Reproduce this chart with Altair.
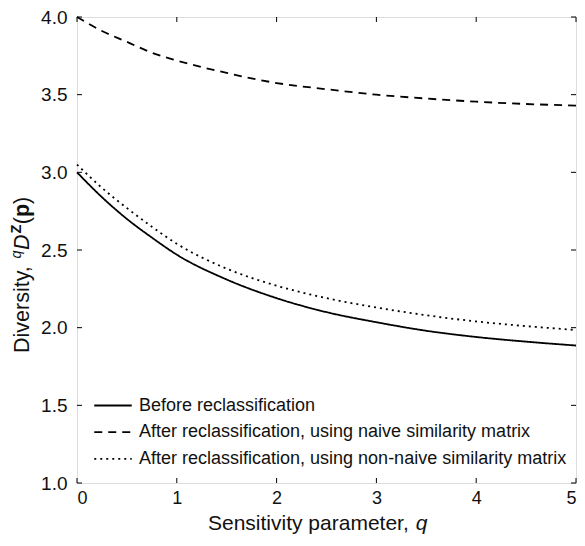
import altair as alt
import pandas as pd

# ---- data ----
q_values = [0, 0.25, 0.5, 0.75, 1, 1.5, 2, 2.5, 3, 3.5, 4, 4.5, 5]
before = [3.00, 2.84, 2.70, 2.58, 2.47, 2.31, 2.19, 2.10, 2.035, 1.98, 1.94, 1.91, 1.885]
naive = [4.00, 3.91, 3.84, 3.77, 3.72, 3.64, 3.575, 3.535, 3.50, 3.475, 3.455, 3.44, 3.43]
non_naive = [3.05, 2.90, 2.77, 2.65, 2.54, 2.38, 2.27, 2.19, 2.13, 2.08, 2.04, 2.01, 1.985]

series_names = [
    "Before reclassification",
    "After reclassification, using naive similarity matrix",
    "After reclassification, using non-naive similarity matrix",
]
dash_patterns = [[1, 0], [8, 6], [2, 4]]
x_ticks = [0, 1, 2, 3, 4, 5]
y_ticks = [1.0, 1.5, 2.0, 2.5, 3.0, 3.5, 4.0]

rows = []
for name, vals in zip(series_names, [before, naive, non_naive]):
    for q, v in zip(q_values, vals):
        rows.append({"q": q, "D": v, "series": name})
df = pd.DataFrame(rows)
xt_df = pd.DataFrame({"q": x_ticks})
yt_df = pd.DataFrame({"D": y_ticks})

FONT = "Liberation Sans"
INK = "#111111"
W, H = 499, 466
TICK = 5

xscale = alt.Scale(domain=[0, 5], nice=False, zero=False)
yscale = alt.Scale(domain=[1, 4], nice=False, zero=False)

lines = alt.Chart(df).mark_line(color="black", strokeWidth=1.8, interpolate="monotone").encode(
    x=alt.X("q:Q", scale=xscale,
            axis=alt.Axis(values=x_ticks, format="d", ticks=False, domain=False, grid=False,
                          labelPadding=6, labelFont=FONT, labelFontSize=18, labelColor=INK,
                          title=None)),
    y=alt.Y("D:Q", scale=yscale,
            axis=alt.Axis(values=y_ticks, format=".1f", ticks=False, domain=False, grid=False,
                          labelPadding=10, labelFont=FONT, labelFontSize=19, labelColor=INK,
                          title=None)),
    strokeDash=alt.StrokeDash(
        "series:N",
        scale=alt.Scale(domain=series_names, range=dash_patterns),
        sort=series_names,
        legend=alt.Legend(title=None, orient="none", legendX=27, legendY=379.5,
                          symbolType="M-2.5,0H2.5", symbolSize=225, symbolStrokeWidth=1.8,
                          symbolStrokeColor="black", labelFontSize=18, labelFont=FONT,
                          labelColor=INK, labelLimit=800, rowPadding=8.7, labelOffset=17,
                          padding=0),
    ),
)

# inward tick marks on all four sides of the box
tick_style = dict(color="black", strokeWidth=1)
xt_bottom = alt.Chart(xt_df).mark_rule(**tick_style).encode(
    x=alt.X("q:Q", scale=xscale), y=alt.value(H - TICK), y2=alt.value(H))
xt_top = alt.Chart(xt_df).mark_rule(**tick_style).encode(
    x=alt.X("q:Q", scale=xscale), y=alt.value(0), y2=alt.value(TICK))
yt_left = alt.Chart(yt_df).mark_rule(**tick_style).encode(
    y=alt.Y("D:Q", scale=yscale), x=alt.value(0), x2=alt.value(TICK))
yt_right = alt.Chart(yt_df).mark_rule(**tick_style).encode(
    y=alt.Y("D:Q", scale=yscale), x=alt.value(W - TICK), x2=alt.value(W))

one = pd.DataFrame({"k": [0]})


def txt(s, x, y, size, angle=0, style="normal", weight="normal", align="left"):
    kw = dict(font=FONT, fontSize=size, color=INK, align=align, baseline="alphabetic",
              fontStyle=style, fontWeight=weight)
    if angle:
        kw["angle"] = angle
    return alt.Chart(one).mark_text(text=s, **kw).encode(x=alt.value(x), y=alt.value(y))


# x-axis title: "Sensitivity parameter, q"
XB = 513
xt = [
    txt("Sensitivity parameter, ", 131, XB, 21),
    txt("q", 338.7, XB, 21, style="italic"),
]

# y-axis title: "Diversity, qDZ(p)" (rotated, reading upward)
S = 336
yx = -48
yt = [
    txt("Diversity, ", yx, S, 21.5, angle=270),
    txt("q", yx - 8, S - 94.4, 14.5, angle=270, style="italic"),
    txt("D", yx, S - 103.0, 21.5, angle=270, style="italic"),
    txt("Z", yx - 8, S - 119.5, 14.5, angle=270, weight="bold"),
    txt("(", yx, S - 128.8, 21.5, angle=270),
    txt("p", yx, S - 136.0, 21.5, angle=270, weight="bold"),
    txt(")", yx, S - 149.1, 21.5, angle=270),
]

chart = alt.layer(lines, xt_bottom, xt_top, yt_left, yt_right, *xt, *yt).properties(
    width=W, height=H,
    autosize=alt.AutoSizeParams(type="none"),
    padding={"left": 69, "top": 9, "right": 1, "bottom": 55},
).configure_view(stroke="black", strokeWidth=1).configure(background="white")

chart.save("out.html", embed_options={"renderer": "svg", "actions": False})
